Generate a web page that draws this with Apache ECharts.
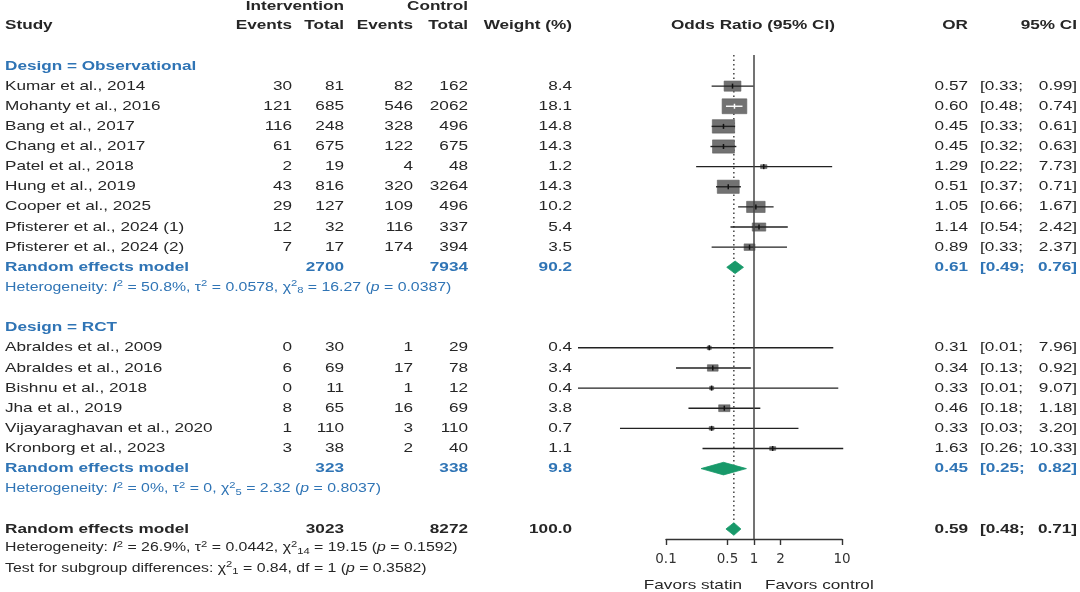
<!DOCTYPE html>
<html><head><meta charset="utf-8">
<script src="https://cdn.jsdelivr.net/npm/echarts@6/dist/echarts.min.js"></script>
<style>html,body{margin:0;padding:0;background:#fff}#c{width:1080px;height:592px}</style>
</head><body><div id="c"></div>
<script>
// ---------------- DATA ----------------
const obsStudies = ['Kumar et al., 2014','Mohanty et al., 2016','Bang et al., 2017','Chang et al., 2017','Patel et al., 2018','Hung et al., 2019','Cooper et al., 2025','Pfisterer et al., 2024 (1)','Pfisterer et al., 2024 (2)'];
const obsIntEvents = [30,121,116,61,2,43,29,12,7];
const obsIntTotal  = [81,685,248,675,19,816,127,32,17];
const obsCtrlEvents= [82,546,328,122,4,320,109,116,174];
const obsCtrlTotal = [162,2062,496,675,48,3264,496,337,394];
const obsWeight    = [8.4,18.1,14.8,14.3,1.2,14.3,10.2,5.4,3.5];
const obsOR        = [0.57,0.60,0.45,0.45,1.29,0.51,1.05,1.14,0.89];
const obsLower     = [0.33,0.48,0.33,0.32,0.22,0.37,0.66,0.54,0.33];
const obsUpper     = [0.99,0.74,0.61,0.63,7.73,0.71,1.67,2.42,2.37];

const rctStudies = ['Abraldes et al., 2009','Abraldes et al., 2016','Bishnu et al., 2018','Jha et al., 2019','Vijayaraghavan et al., 2020','Kronborg et al., 2023'];
const rctIntEvents = [0,6,0,8,1,3];
const rctIntTotal  = [30,69,11,65,110,38];
const rctCtrlEvents= [1,17,1,16,3,2];
const rctCtrlTotal = [29,78,12,69,110,40];
const rctWeight    = [0.4,3.4,0.4,3.8,0.7,1.1];
const rctOR        = [0.31,0.34,0.33,0.46,0.33,1.63];
const rctLower     = [0.01,0.13,0.01,0.18,0.03,0.26];
const rctUpper     = [7.96,0.92,9.07,1.18,3.20,10.33];

const groupLabels   = ['Design = Observational','Design = RCT'];
const summaryLabel  = 'Random effects model';
const summaryIntTotal  = [2700,323,3023];   // obs, rct, overall
const summaryCtrlTotal = [7934,338,8272];
const summaryWeight    = [90.2,9.8,100.0];
const summaryOR        = [0.61,0.45,0.59];
const summaryLower     = [0.49,0.25,0.48];
const summaryUpper     = [0.76,0.82,0.71];
const hetTexts = [
  'Heterogeneity: {it|I}{sup|2} = 50.8%, τ{sup|2} = 0.0578, χ{sup|2}{sub|8} = 16.27 ({it|p} = 0.0387)',
  'Heterogeneity: {it|I}{sup|2} = 0%, τ{sup|2} = 0, χ{sup|2}{sub|5} = 2.32 ({it|p} = 0.8037)',
  'Heterogeneity: {it|I}{sup|2} = 26.9%, τ{sup|2} = 0.0442, χ{sup|2}{sub|14} = 19.15 ({it|p} = 0.1592)'
];
const subgroupTestText = 'Test for subgroup differences: χ{sup|2}{sub|1} = 0.84, df = 1 ({it|p} = 0.3582)';
const tickValues = [0.1,0.5,1,2,10];
const tickLabels = ['0.1','0.5','1','2','10'];
const favorsLabels = ['Favors statin','Favors control'];

// ---------------- LAYOUT / STYLE ----------------
const W = 1080, H = 592, ROW0 = 66, ROWH = 20.13;
const PLOT = {left: 666, right: 842, top: 55, bottom: 539};
const COL = {study: 5, ie: 292, it: 344, ce: 413, ct: 468, w: 572, plot: 753, or: 968, ciL: 980, ciR: 1077};
const SX = 1.32;
const FONT = "'Liberation Sans', Arial, Helvetica, sans-serif";
const INK = '#262626', BLUE = '#2f74b5', SQ = '#727272', GREEN = '#18996a';
const HET_SIZE = 12;
const FAVORS_ROW = 25.8;
const rowAt = y => (y - ROW0) / ROWH;

const RICH = {
  it:  {fontStyle: 'italic', fontSize: HET_SIZE, fontFamily: FONT},
  sup: {fontSize: 8.5, fontFamily: FONT, lineHeight: 9, verticalAlign: 'top'},
  sub: {fontSize: 8.5, fontFamily: FONT, lineHeight: 9, verticalAlign: 'bottom'}
};

// ---------------- BUILD TABLE ----------------
const groups = [
  {label: groupLabels[0], names: obsStudies, ie: obsIntEvents, it: obsIntTotal, ce: obsCtrlEvents, ct: obsCtrlTotal, w: obsWeight, or: obsOR, lo: obsLower, hi: obsUpper},
  {label: groupLabels[1], names: rctStudies, ie: rctIntEvents, it: rctIntTotal, ce: rctCtrlEvents, ct: rctCtrlTotal, w: rctWeight, or: rctOR, lo: rctLower, hi: rctUpper}
];
const tableRows = [];
const studyMarks = [];
const diamondMarks = [];
tableRows.push({r: -2.95, cells: [{t: 'Intervention', x: COL.it, bold: 1}, {t: 'Control', x: COL.ct, bold: 1}]});
tableRows.push({r: -2, cells: [
  {t: 'Study', x: COL.study, align: 'left', bold: 1},
  {t: 'Events', x: COL.ie, bold: 1}, {t: 'Total', x: COL.it, bold: 1},
  {t: 'Events', x: COL.ce, bold: 1}, {t: 'Total', x: COL.ct, bold: 1},
  {t: 'Weight (%)', x: COL.w, bold: 1},
  {t: 'Odds Ratio (95% CI)', x: COL.plot, align: 'center', bold: 1},
  {t: 'OR', x: COL.or, bold: 1}, {t: '95% CI', x: COL.ciR, bold: 1}
]});
function summaryCells(k, color) {
  return [
    {t: summaryLabel, x: COL.study, align: 'left', bold: 1, color},
    {t: String(summaryIntTotal[k]), x: COL.it, bold: 1, color},
    {t: String(summaryCtrlTotal[k]), x: COL.ct, bold: 1, color},
    {t: summaryWeight[k].toFixed(1), x: COL.w, bold: 1, color},
    {t: summaryOR[k].toFixed(2), x: COL.or, bold: 1, color},
    {t: '[' + summaryLower[k].toFixed(2) + ';', x: COL.ciL, align: 'left', bold: 1, color},
    {t: summaryUpper[k].toFixed(2) + ']', x: COL.ciR, bold: 1, color}
  ];
}
let r = 0;
groups.forEach((g, gi) => {
  tableRows.push({r, cells: [{t: g.label, x: COL.study, align: 'left', bold: 1, color: BLUE}]}); r++;
  g.names.forEach((nm, i) => {
    tableRows.push({r, cells: [
      {t: nm, x: COL.study, align: 'left'},
      {t: String(g.ie[i]), x: COL.ie}, {t: String(g.it[i]), x: COL.it},
      {t: String(g.ce[i]), x: COL.ce}, {t: String(g.ct[i]), x: COL.ct},
      {t: g.w[i].toFixed(1), x: COL.w},
      {t: g.or[i].toFixed(2), x: COL.or},
      {t: '[' + g.lo[i].toFixed(2) + ';', x: COL.ciL, align: 'left'},
      {t: g.hi[i].toFixed(2) + ']', x: COL.ciR}
    ]});
    studyMarks.push([Math.log10(g.or[i]), r, Math.log10(g.lo[i]), Math.log10(g.hi[i]), g.w[i]]);
    r++;
  });
  tableRows.push({r, cells: summaryCells(gi, BLUE)});
  diamondMarks.push([Math.log10(summaryOR[gi]), r, Math.log10(summaryLower[gi]), Math.log10(summaryUpper[gi])]);
  r++;
  tableRows.push({r, cells: [{t: hetTexts[gi], x: COL.study, align: 'left', rich: 1, color: BLUE, size: HET_SIZE}]});
  r += 2;
});
const overallRow = r;
tableRows.push({r, cells: summaryCells(2, INK)});
diamondMarks.push([Math.log10(summaryOR[2]), r, Math.log10(summaryLower[2]), Math.log10(summaryUpper[2])]);
r++;
tableRows.push({r: r - 0.05, cells: [{t: hetTexts[2], x: COL.study, align: 'left', rich: 1, size: HET_SIZE}]}); r++;
tableRows.push({r: r - 0.05, cells: [{t: subgroupTestText, x: COL.study, align: 'left', rich: 1, size: HET_SIZE}]});

// ---------------- CHART ----------------
function textEl(x, y, c) {
  const st = {
    text: c.t, x: 0, y: 0, align: c.align || 'right', verticalAlign: 'middle',
    fill: c.color || INK, fontSize: c.size || 13, fontWeight: c.bold ? 'bold' : 'normal', fontFamily: FONT
  };
  if (c.rich) { st.rich = RICH; st.lineHeight = 16; }
  return {type: 'text', x, y, scaleX: SX, style: st};
}

const chart = echarts.init(document.getElementById('c'), null, {renderer: 'canvas'});
const option = {
  animation: false,
  backgroundColor: '#fff',
  grid: [
    {left: 0, right: 0, top: 0, bottom: 0},
    {left: PLOT.left, right: W - PLOT.right, top: PLOT.top, bottom: H - PLOT.bottom}
  ],
  xAxis: [
    {gridIndex: 0, type: 'value', min: 0, max: W, show: false},
    {gridIndex: 1, type: 'value', min: Math.log10(tickValues[0]), max: Math.log10(tickValues[tickValues.length - 1]),
     axisLine: {show: true, onZero: false, lineStyle: {color: '#333', width: 1.4}},
     axisTick: {show: true, length: 6, customValues: tickValues.map(Math.log10), lineStyle: {color: '#333', width: 1.4}},
     axisLabel: {show: true, margin: 13, customValues: tickValues.map(Math.log10), color: '#333', fontSize: 13.5, fontFamily: "'DejaVu Sans', sans-serif",
       formatter: v => { let b = 0; tickValues.forEach((t, i) => { if (Math.abs(Math.log10(t) - v) < Math.abs(Math.log10(tickValues[b]) - v)) b = i; }); return tickLabels[b]; }},
     splitLine: {show: false}}
  ],
  yAxis: [
    {gridIndex: 0, type: 'value', inverse: true, min: rowAt(0), max: rowAt(H), show: false},
    {gridIndex: 1, type: 'value', inverse: true, min: rowAt(PLOT.top), max: rowAt(PLOT.bottom), show: false}
  ],
  series: [
    { // reference lines
      type: 'custom', xAxisIndex: 1, yAxisIndex: 1, z: 1, silent: true,
      data: [[Math.log10(summaryOR[2]), overallRow]],
      renderItem: (params, api) => {
        const p = api.coord([api.value(0), api.value(1)]);
        return {type: 'line', shape: {x1: p[0], y1: params.coordSys.y, x2: p[0], y2: p[1]},
          style: {stroke: '#444', lineWidth: 1.5, lineDash: [1.5, 3]}};
      },
      markLine: {silent: true, symbol: 'none', label: {show: false}, animation: false,
        lineStyle: {color: '#444', width: 1.5, type: 'solid'}, data: [{xAxis: 0}]}
    },
    { // studies
      type: 'custom', xAxisIndex: 1, yAxisIndex: 1, z: 3, silent: true,
      data: studyMarks,
      renderItem: (params, api) => {
        const row = api.value(1);
        const p = api.coord([api.value(0), row]);
        const lo = api.coord([api.value(2), row]);
        const hi = api.coord([api.value(3), row]);
        const sw = Math.max(4, 5.8 * Math.sqrt(api.value(4)));
        const sh = Math.max(3.5, 3.5 * Math.sqrt(api.value(4)));
        const lineCol = (hi[0] - lo[0]) < sw ? '#fff' : '#222';
        return {type: 'group', children: [
          {type: 'rect', shape: {x: p[0] - sw / 2, y: p[1] - sh / 2, width: sw, height: sh}, style: {fill: SQ, stroke: '#5e5e5e', lineWidth: 0.6}},
          {type: 'line', shape: {x1: lo[0], y1: p[1], x2: hi[0], y2: p[1]}, style: {stroke: lineCol, lineWidth: 1.4}},
          {type: 'line', shape: {x1: p[0], y1: p[1] - 2.5, x2: p[0], y2: p[1] + 2.5}, style: {stroke: lineCol === '#fff' ? '#fff' : '#111', lineWidth: 1.5}}
        ]};
      }
    },
    { // diamonds
      type: 'custom', xAxisIndex: 1, yAxisIndex: 1, z: 4, silent: true,
      data: diamondMarks,
      renderItem: (params, api) => {
        const row = api.value(1);
        const p = api.coord([api.value(0), row]);
        const lo = api.coord([api.value(2), row]);
        const hi = api.coord([api.value(3), row]);
        const h = 6.3;
        return {type: 'polygon', shape: {points: [[lo[0], p[1]], [p[0], p[1] - h], [hi[0], p[1]], [p[0], p[1] + h]]},
          style: {fill: GREEN, stroke: GREEN, lineWidth: 0.8}};
      }
    },
    { // favors labels
      type: 'custom', xAxisIndex: 1, yAxisIndex: 1, z: 4, silent: true,
      data: [[0, FAVORS_ROW]],
      renderItem: (params, api) => {
        const p = api.coord([api.value(0), api.value(1)]);
        return {type: 'group', children: [
          textEl(p[0] - 12, p[1], {t: favorsLabels[0], align: 'right'}),
          textEl(p[0] + 11, p[1], {t: favorsLabels[1], align: 'left'})
        ]};
      }
    },
    { // table text
      type: 'custom', xAxisIndex: 0, yAxisIndex: 0, z: 5, silent: true,
      data: tableRows.map(t => [0, t.r]),
      renderItem: (params, api) => {
        const rw = tableRows[params.dataIndex];
        const y = api.coord([0, rw.r])[1];
        return {type: 'group', children: rw.cells.map(c => textEl(api.coord([c.x, rw.r])[0], y, c))};
      }
    }
  ]
};
chart.setOption(option);
</script>
</body></html>
